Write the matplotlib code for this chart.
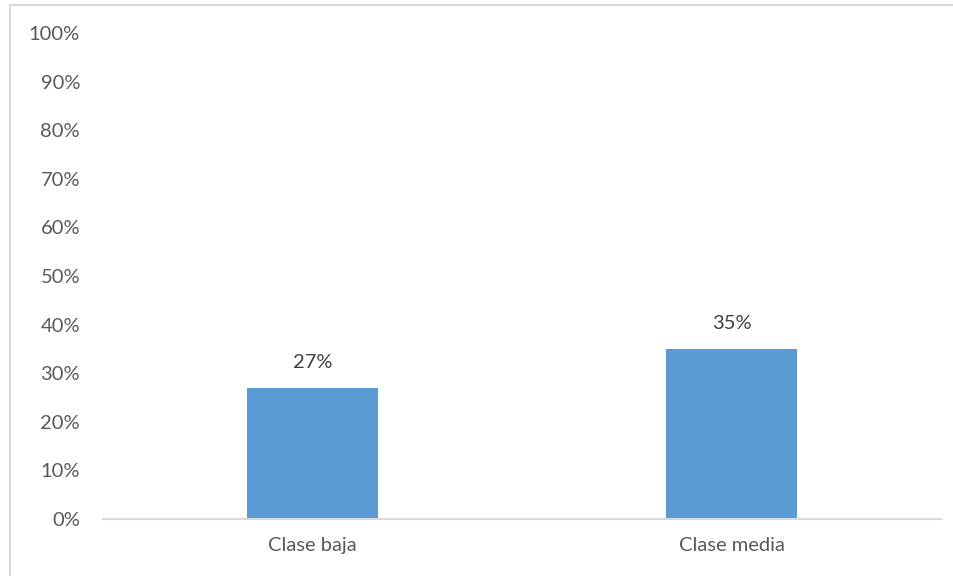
import matplotlib.pyplot as plt
from matplotlib.patches import Rectangle
from matplotlib.ticker import PercentFormatter

categories = ['Clase baja', 'Clase media']
values = [0.27, 0.35]
labels = ['27%', '35%']
yticks = [0, 0.1, 0.2, 0.3, 0.4, 0.5, 0.6, 0.7, 0.8, 0.9, 1.0]

W, H = 954, 576
plt.rcParams['font.family'] = ['Lato', 'DejaVu Sans']

fig = plt.figure(figsize=(W / 100, H / 100), dpi=100)
ax = fig.add_axes([103 / W, (H - 519) / H, (941 - 103) / W, (519 - 33) / H])

# chart border (only left/top visible in the reference)
fig.patches.append(Rectangle((10 / W, -0.1), 1.1, (H - 5) / H + 0.1,
                             transform=fig.transFigure, fill=False,
                             edgecolor='#d9d9d9', linewidth=1.5))

x = range(len(categories))
bars = ax.bar(x, values, width=0.315, color='#5b9bd5')

for xi, v, lab in zip(x, values, labels):
    ax.annotate(lab, (xi, v), xytext=(0, 12), textcoords='offset points',
                ha='center', va='bottom', fontsize=14.5, color='#404040')

ax.set_xlim(-0.5, 1.5)
ax.set_ylim(0, 1.0)
ax.set_yticks(yticks)
ax.yaxis.set_major_formatter(PercentFormatter(1.0, decimals=0))
ax.set_xticks(list(x))
ax.set_xticklabels(categories)
ax.tick_params(axis='both', length=0, labelsize=14.5, colors='#595959')
ax.tick_params(axis='y', pad=16.5)
ax.tick_params(axis='x', pad=13)

for s in ['top', 'right', 'left']:
    ax.spines[s].set_visible(False)
ax.spines['bottom'].set_color('#d9d9d9')
ax.spines['bottom'].set_linewidth(1.5)

fig.savefig('out.png', dpi=100)
